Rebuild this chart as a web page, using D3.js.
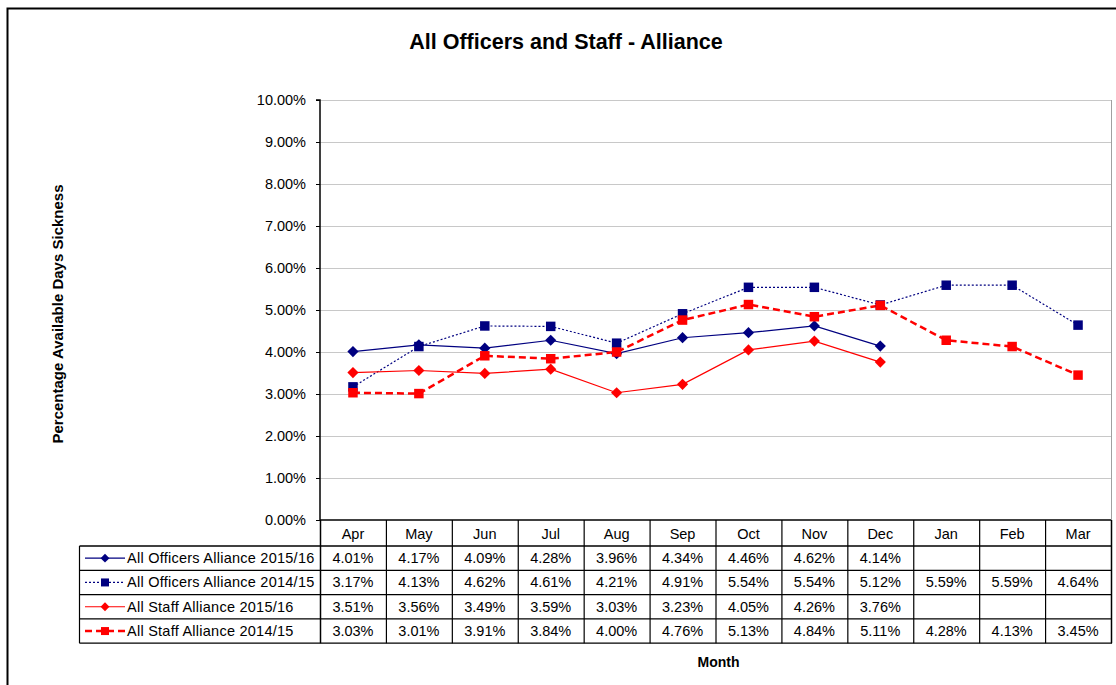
<!DOCTYPE html>
<html><head><meta charset="utf-8">
<script src="https://cdn.jsdelivr.net/npm/d3@7"></script>
<style>body{margin:0;background:#fff;}svg{display:block;font-family:"Liberation Sans",Arial,sans-serif;}</style>
</head><body>
<script>
const months = ["Apr","May","Jun","Jul","Aug","Sep","Oct","Nov","Dec","Jan","Feb","Mar"];
const officers1516 = [4.01,4.17,4.09,4.28,3.96,4.34,4.46,4.62,4.14,null,null,null];
const officers1415 = [3.17,4.13,4.62,4.61,4.21,4.91,5.54,5.54,5.12,5.59,5.59,4.64];
const staff1516 = [3.51,3.56,3.49,3.59,3.03,3.23,4.05,4.26,3.76,null,null,null];
const staff1415 = [3.03,3.01,3.91,3.84,4.00,4.76,5.13,4.84,5.11,4.28,4.13,3.45];
const seriesNames = ["All Officers Alliance 2015/16","All Officers Alliance 2014/15","All Staff Alliance 2015/16","All Staff Alliance 2014/15"];
const yTicks = [0,1,2,3,4,5,6,7,8,9,10];

const series = [
  {name:seriesNames[0], values:officers1516, color:"#000080", width:1.2, dash:null, marker:"diamond"},
  {name:seriesNames[1], values:officers1415, color:"#000080", width:1.2, dash:"2,2", marker:"square"},
  {name:seriesNames[2], values:staff1516, color:"#ff0000", width:1.2, dash:null, marker:"diamond"},
  {name:seriesNames[3], values:staff1415, color:"#ff0000", width:2.5, dash:"7,4", marker:"square"}
];

const W=1116,H=685;
const svg=d3.select("body").append("svg").attr("width",W).attr("height",H);
svg.append("rect").attr("x",7.5).attr("y",8.5).attr("width",W+10).attr("height",H+10).attr("fill","none").attr("stroke","#000").attr("stroke-width",2);

const L=320,R=1111,T=100,B=520;
const x=d3.scaleBand().domain(months).range([L,R]);
const y=d3.scaleLinear().domain([0,10]).range([B,T]);

svg.append("text").attr("x",566).attr("y",49).attr("text-anchor","middle").attr("font-weight","bold").attr("font-size",21.5).text("All Officers and Staff - Alliance");

svg.append("g").selectAll("line").data(yTicks.slice(1)).join("line")
  .attr("x1",L).attr("x2",R).attr("y1",d=>y(d)+0.5).attr("y2",d=>y(d)+0.5)
  .attr("stroke","#c8c8c8").attr("stroke-width",1.2);
svg.append("line").attr("x1",R+0.5).attr("x2",R+0.5).attr("y1",T).attr("y2",B).attr("stroke","#a0a0a0");

const yAxis=d3.axisLeft(y).tickValues(yTicks).tickSize(4).tickPadding(10).tickFormat(d=>d.toFixed(2)+"%");
const ga=svg.append("g").attr("transform",`translate(${L},0)`).call(yAxis);
ga.select(".domain").attr("stroke","#000").attr("stroke-width",1.5).attr("d",`M-4,${T}H0V${B}`);
ga.selectAll(".tick line").attr("stroke","#000");
ga.selectAll("text").attr("font-size",14.5).attr("fill","#000").attr("font-family","Liberation Sans, Arial, sans-serif");

svg.append("text").attr("transform",`translate(63,${(T+B)/2+4}) rotate(-90)`).attr("text-anchor","middle")
  .attr("font-weight","bold").attr("font-size",15).text("Percentage  Available Days Sickness");

const line=d3.line().defined(d=>d.v!=null).x(d=>x(d.m)+x.bandwidth()/2).y(d=>y(d.v));
series.forEach(s=>{
  const pts=months.map((m,i)=>({m,v:s.values[i]}));
  svg.append("path").datum(pts).attr("d",line).attr("fill","none").attr("stroke",s.color)
    .attr("stroke-width",s.width).attr("stroke-dasharray",s.dash);
});
const diamond=d3.symbol().type(d3.symbolDiamond2).size(80);
const square=d3.symbol().type(d3.symbolSquare).size(90);
series.forEach(s=>{
  months.forEach((m,i)=>{
    const v=s.values[i]; if(v==null) return;
    svg.append("path").attr("transform",`translate(${x(m)+x.bandwidth()/2},${y(v)})`)
      .attr("d",(s.marker==="diamond"?diamond:square)()).attr("fill",s.color);
  });
});

const rowH=24.3, headTop=B, headH=26;
const tL=79.5;
const tg=svg.append("g");
months.forEach(m=>{
  tg.append("text").attr("x",x(m)+x.bandwidth()/2).attr("y",headTop+19).attr("text-anchor","middle").attr("font-size",14.5).text(m);
});
const tableTop=headTop+headH;
const tableBot=tableTop+rowH*4;
months.forEach((m,i)=>{
  tg.append("line").attr("x1",x(m)+0.5).attr("x2",x(m)+0.5).attr("y1",headTop).attr("y2",tableBot).attr("stroke","#000").attr("stroke-width",i===0?1.5:1.2);
});
tg.append("line").attr("x1",R+0.5).attr("x2",R+0.5).attr("y1",headTop).attr("y2",tableBot).attr("stroke","#000").attr("stroke-width",1.5);
tg.append("line").attr("x1",tL).attr("x2",tL).attr("y1",tableTop).attr("y2",tableBot).attr("stroke","#000").attr("stroke-width",1.2);
tg.append("line").attr("x1",L).attr("x2",R).attr("y1",headTop).attr("y2",headTop).attr("stroke","#000").attr("stroke-width",1.5);
for(let r=0;r<=4;r++){
  const yy=tableTop+rowH*r;
  tg.append("line").attr("x1",tL).attr("x2",R+1).attr("y1",yy).attr("y2",yy).attr("stroke","#000").attr("stroke-width",1.3);
}
series.forEach((s,r)=>{
  const cy=tableTop+rowH*r+rowH/2;
  tg.append("line").attr("x1",85).attr("x2",125).attr("y1",cy).attr("y2",cy).attr("stroke",s.color)
    .attr("stroke-width",s.width).attr("stroke-dasharray",s.dash);
  tg.append("path").attr("transform",`translate(105,${cy})`)
    .attr("d",d3.symbol().type(s.marker==="diamond"?d3.symbolDiamond2:d3.symbolSquare).size(s.marker==="diamond"?50:64)()).attr("fill",s.color);
  tg.append("text").attr("x",127).attr("y",cy+5).attr("font-size",14.5).attr("letter-spacing",0.25).text(s.name);
  months.forEach((m,i)=>{
    const v=s.values[i]; if(v==null) return;
    tg.append("text").attr("x",x(m)+x.bandwidth()/2).attr("y",cy+5).attr("text-anchor","middle").attr("font-size",14.5).text(v.toFixed(2)+"%");
  });
});

svg.append("text").attr("x",(L+R)/2+3).attr("y",667).attr("text-anchor","middle").attr("font-weight","bold").attr("font-size",14).text("Month");
</script>
</body></html>
